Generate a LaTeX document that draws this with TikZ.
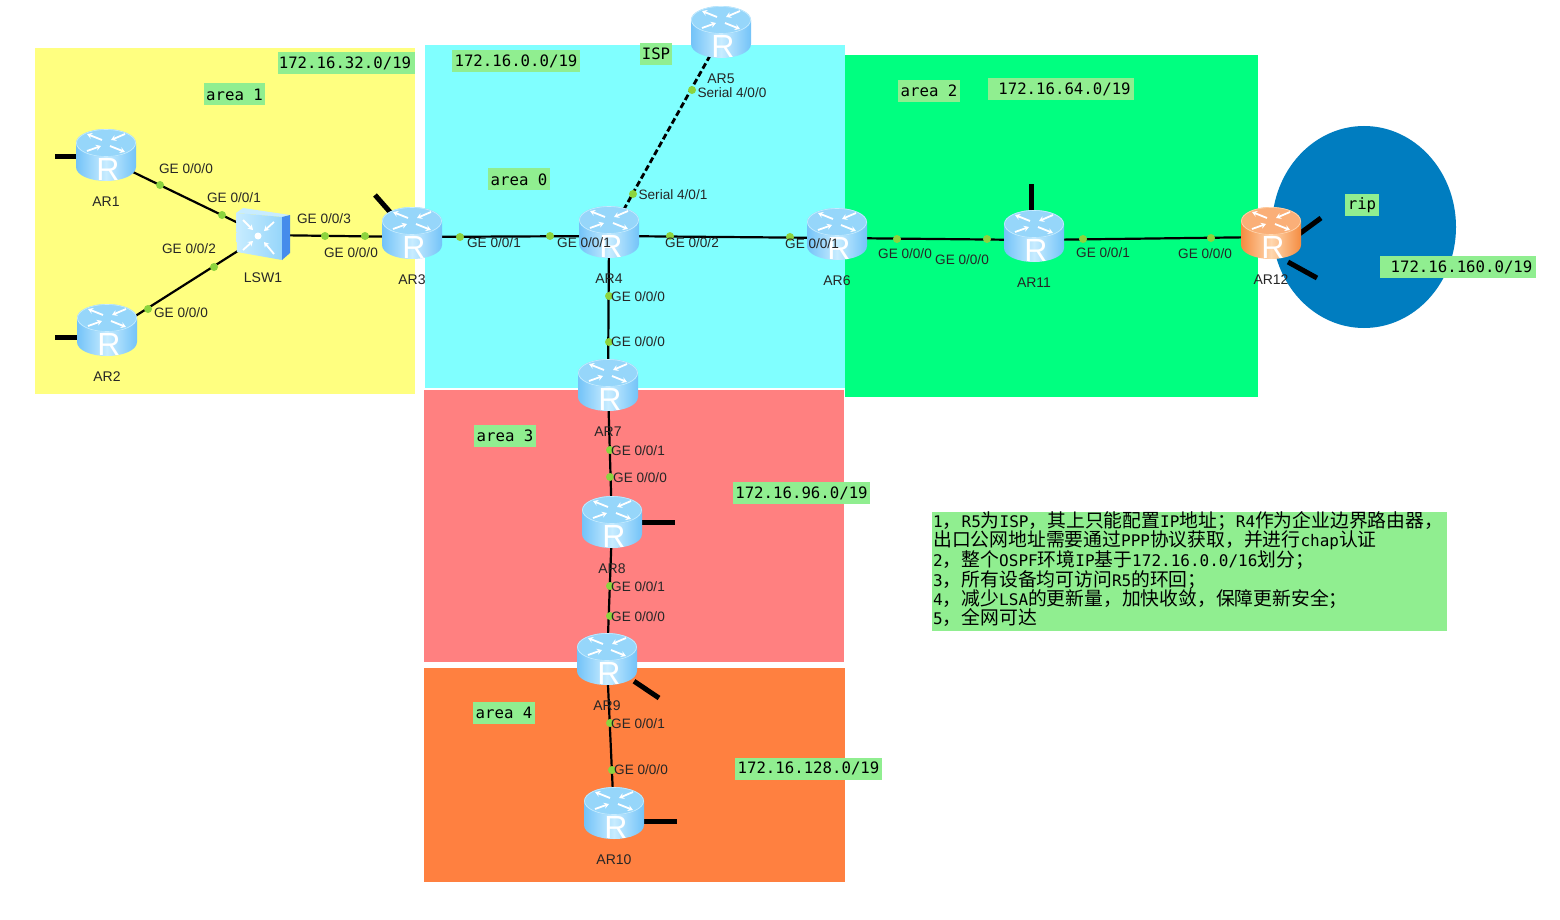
\documentclass[tikz,border=0pt]{standalone}
\usepackage{fontspec}
\setmainfont{Liberation Sans}
\setmonofont{DejaVu Sans Mono}
\newfontfamily\cjkfont{Noto Sans CJK SC}
\usetikzlibrary{arrows.meta,calc,positioning}
\definecolor{areayellow}{RGB}{255,255,128}
\definecolor{areacyan}{RGB}{128,255,255}
\definecolor{areagreen}{RGB}{0,255,128}
\definecolor{areared}{RGB}{255,128,128}
\definecolor{areaorange}{RGB}{255,128,64}
\definecolor{ripblue}{RGB}{0,125,192}
\definecolor{notegreen}{RGB}{144,238,144}
\definecolor{portgreen}{RGB}{140,212,62}
\definecolor{routerblue}{RGB}{115,195,248}
\definecolor{routerpale}{RGB}{200,236,255}
\definecolor{routertop}{RGB}{150,214,250}
\definecolor{routerorange}{RGB}{245,140,65}
\definecolor{routerpeach}{RGB}{255,215,175}
\definecolor{routertoporange}{RGB}{250,175,120}
\definecolor{switchside}{RGB}{70,140,235}
\newcommand{\zh}[1]{{\fontsize{18.8}{19.2}\cjkfont #1}}
\newcommand{\routericon}[4]{%
 \begin{scope}[shift={($(#1)+(0,-4)$)}]
  \shade[left color=#2,right color=#2,middle color=#3]
   (-30,-12) -- (-30,12) .. controls (-30,20) and (-16.5,26) .. (0,26)
   .. controls (16.5,26) and (30,20) .. (30,12) -- (30,-12) -- cycle;
  \fill[#4] (0,-12) ellipse [x radius=30pt,y radius=14pt];
  \draw[#3,line width=.6pt] (0,-12) ellipse [x radius=29.5pt,y radius=13.5pt];
  \draw[routerarrow] (-4,-15) -- (-19,-21);
  \draw[routerarrow] (19,-21) -- (5,-15);
  \draw[routerarrow] (-19,-4) -- (-5,-9);
  \draw[routerarrow] (4,-9) -- (19,-3);
  \node[routerletter] (#1letter) at (2,14) {R};
 \end{scope}}

\begin{document}
\begin{tikzpicture}[x=1pt,y=-1pt,line cap=butt,line join=round,
  routerbox/.style={minimum width=54pt,minimum height=36pt,inner sep=0pt},
  routerarrow/.style={white,line width=1.8pt,-{Stealth[length=5pt,width=6pt]}},
  routerletter/.style={white,inner sep=0pt,font=\fontsize{32}{32}\selectfont},
  routername/.style={inner sep=0pt,text=black!85,font=\fontsize{14}{14}\selectfont},
  portdot/.style={circle,fill=portgreen,minimum size=8pt,inner sep=0pt},
  portname/.style={inner sep=0pt,text=black!85,font=\fontsize{13.6}{14}\selectfont},
  netbox/.style={fill=notegreen,minimum height=22pt,inner sep=0pt,
   font=\ttfamily\fontsize{15.7}{16}\selectfont},
  linkline/.style={line width=2.2pt,black},
  stubline/.style={line width=5pt,black}]
 \useasboundingbox (0,0) rectangle (1560,920);
 \fill[white] (0,0) rectangle (1560,920);
 \fill[areayellow] (35,48) rectangle (415,394);
 \fill[areacyan] (425,45) rectangle (845,388);
 \fill[areagreen] (845,55) rectangle (1258,397);
 \fill[areared] (424,390) rectangle (844,662);
 \fill[areaorange] (424,668) rectangle (845,882);
 \fill[ripblue] (1364,227) ellipse [x radius=92pt,y radius=101pt];
 \fill[notegreen] (932,512) rectangle (1447,631);

 \node[routerbox] (ar1) at (106,159) {};
 \node[routerbox] (ar2) at (107,334) {};
 \node[routerbox] (ar3) at (412,237) {};
 \node[routerbox] (ar4) at (609,236) {};
 \node[routerbox] (ar5) at (721,36) {};
 \node[routerbox] (ar6) at (837,238) {};
 \node[routerbox] (ar7) at (608,389) {};
 \node[routerbox] (ar8) at (612,526) {};
 \node[routerbox] (ar9) at (607,663) {};
 \node[routerbox] (ar10) at (614,817) {};
 \node[routerbox] (ar11) at (1034,240) {};
 \node[routerbox] (ar12) at (1271,237) {};
 \node[minimum width=48pt,minimum height=44pt,inner sep=0pt] (lsw1) at (263,235) {};

 \draw[linkline] (ar1) -- (lsw1);
 \draw[linkline] (ar2) -- (lsw1);
 \draw[linkline] (lsw1) -- (ar3);
 \draw[linkline] (ar3) -- (ar4);
 \draw[linkline] (ar4) -- (ar6);
 \draw[linkline] (ar6) -- (ar11);
 \draw[linkline] (ar11) -- (ar12);
 \draw[linkline] (ar4) -- (ar7);
 \draw[linkline] (ar7) -- (ar8);
 \draw[linkline] (ar8) -- (ar9);
 \draw[linkline] (ar9) -- (ar10);
 \draw[line width=2.8pt,dash pattern=on 6pt off 3pt] (ar4) -- (ar5);

 \coordinate (ar1stub) at (55,157);
 \coordinate (ar2stub) at (55,337);
 \coordinate (ar3stub) at (375,195);
 \coordinate (ar8stub) at (675,522);
 \coordinate (ar9stub) at (659,698);
 \coordinate (ar10stub) at (677,821);
 \coordinate (ar11stub) at (1031,184);
 \coordinate (ar12stuba) at (1321,218);
 \coordinate (ar12stubb) at (1317,278);
 \draw[stubline] ($(ar1)+(0,-2)$) -- (ar1stub);
 \draw[stubline] ($(ar2)+(0,3)$) -- (ar2stub);
 \draw[stubline] (ar3) -- (ar3stub);
 \draw[stubline] ($(ar8)+(0,-4)$) -- (ar8stub);
 \draw[stubline] (ar9) -- (ar9stub);
 \draw[stubline] ($(ar10)+(0,4)$) -- (ar10stub);
 \draw[stubline] ($(ar11)+(-3,0)$) -- (ar11stub);
 \draw[stubline] ($(ar12)+(20,3)$) -- (ar12stuba);
 \draw[stubline] ($(ar12)+(17,25)$) -- (ar12stubb);

 \node[portdot] (p1) at (160,185) {};
 \node[portdot] (p2) at (222,215) {};
 \node[portdot] (p3) at (214,267) {};
 \node[portdot] (p4) at (148,309) {};
 \node[portdot] (p5) at (325,236) {};
 \node[portdot] (p6) at (365,236) {};
 \node[portdot] (p7) at (460,237) {};
 \node[portdot] (p8) at (550,236) {};
 \node[portdot] (p9) at (670,236) {};
 \node[portdot] (p10) at (790,237) {};
 \node[portdot] (p11) at (897,239) {};
 \node[portdot] (p12) at (987,239) {};
 \node[portdot] (p13) at (1083,239) {};
 \node[portdot] (p14) at (1211,238) {};
 \node[portdot] (p15) at (692,90) {};
 \node[portdot] (p16) at (633,194) {};
 \node[portdot] (p17) at (609,296) {};
 \node[portdot] (p18) at (609,342) {};
 \node[portdot] (p19) at (610,450) {};
 \node[portdot] (p20) at (610,477) {};
 \node[portdot] (p21) at (610,586) {};
 \node[portdot] (p22) at (610,616) {};
 \node[portdot] (p23) at (610,723) {};
 \node[portdot] (p24) at (612,770) {};

 \routericon{ar1}{routerblue}{routerpale}{routertop}
 \routericon{ar2}{routerblue}{routerpale}{routertop}
 \routericon{ar3}{routerblue}{routerpale}{routertop}
 \routericon{ar4}{routerblue}{routerpale}{routertop}
 \routericon{ar5}{routerblue}{routerpale}{routertop}
 \routericon{ar6}{routerblue}{routerpale}{routertop}
 \routericon{ar7}{routerblue}{routerpale}{routertop}
 \routericon{ar8}{routerblue}{routerpale}{routertop}
 \routericon{ar9}{routerblue}{routerpale}{routertop}
 \routericon{ar10}{routerblue}{routerpale}{routertop}
 \routericon{ar11}{routerblue}{routerpale}{routertop}
 \routericon{ar12}{routerorange}{routerpeach}{routertoporange}

 \fill[routerpale] (236,213) -- (243,208) -- (290,215) -- (282,217) -- cycle;
 \shade[left color=routerpale,right color=routertop]
  (236,213) -- (282,217) -- (282,260) -- (237,252) -- cycle;
 \fill[switchside] (282,217) -- (290,215) -- (290,253) -- (282,260) -- cycle;
 \fill[white] (258,236) circle [radius=3.5pt];
 \draw[routerarrow] (243,220) -- (253,230);
 \draw[routerarrow] (274,222) -- (264,231);
 \draw[routerarrow] (243,250) -- (253,241);
 \draw[routerarrow] (274,254) -- (264,242);

 \node[routername,below=19pt of ar1] (ar1name) {AR1};
 \node[routername,below=19pt of ar2] (ar2name) {AR2};
 \node[routername,below=19pt of ar3] (ar3name) {AR3};
 \node[routername,below=19pt of ar4] (ar4name) {AR4};
 \node[routername,below=19pt of ar5] (ar5name) {AR5};
 \node[routername,below=19pt of ar6] (ar6name) {AR6};
 \node[routername,below=19pt of ar7] (ar7name) {AR7};
 \node[routername,below=19pt of ar8] (ar8name) {AR8};
 \node[routername,below=19pt of ar9] (ar9name) {AR9};
 \node[routername,below=19pt of ar10] (ar10name) {AR10};
 \node[routername,below=19pt of ar11] (ar11name) {AR11};
 \node[routername,below=19pt of ar12] (ar12name) {AR12};
 \node[routername,below=15pt of lsw1] (lsw1name) {LSW1};

 \node[portname] (ge1) at (186,169) {GE 0/0/0};
 \node[portname] (ge2) at (234,198) {GE 0/0/1};
 \node[portname] (ge3) at (189,249) {GE 0/0/2};
 \node[portname] (ge4) at (181,313) {GE 0/0/0};
 \node[portname] (ge5) at (324,219) {GE 0/0/3};
 \node[portname] (ge6) at (351,253) {GE 0/0/0};
 \node[portname] (ge7) at (494,243) {GE 0/0/1};
 \node[portname] (ge8) at (584,243) {GE 0/0/1};
 \node[portname] (ge9) at (692,243) {GE 0/0/2};
 \node[portname] (ge10) at (812,244) {GE 0/0/1};
 \node[portname] (ge11) at (905,254) {GE 0/0/0};
 \node[portname] (ge12) at (962,260) {GE 0/0/0};
 \node[portname] (ge13) at (1103,253) {GE 0/0/1};
 \node[portname] (ge14) at (1205,254) {GE 0/0/0};
 \node[portname] (ge15) at (638,297) {GE 0/0/0};
 \node[portname] (ge16) at (638,342) {GE 0/0/0};
 \node[portname] (ge17) at (638,451) {GE 0/0/1};
 \node[portname] (ge18) at (640,478) {GE 0/0/0};
 \node[portname] (ge19) at (638,587) {GE 0/0/1};
 \node[portname] (ge20) at (638,617) {GE 0/0/0};
 \node[portname] (ge21) at (638,724) {GE 0/0/1};
 \node[portname] (ge22) at (641,770) {GE 0/0/0};
 \node[portname] (se1) at (732,93) {Serial 4/0/0};
 \node[portname] (se2) at (673,195) {Serial 4/0/1};

 \node[netbox,minimum width=61pt] (area1) at (234.5,94.5) {area 1};
 \node[netbox,minimum width=62pt] (area0) at (519,179.5) {area 0};
 \node[netbox,minimum width=62pt] (area2) at (929,91) {area 2};
 \node[netbox,minimum width=62pt] (area3) at (505,436) {area 3};
 \node[netbox,minimum width=62pt] (area4) at (504,713) {area 4};
 \node[netbox,minimum width=137pt] (net32) at (346.5,63) {\hspace{-3pt}172.16.32.0/19};
 \node[netbox,minimum width=128pt] (net0) at (516,61) {172.16.0.0/19};
 \node[netbox,minimum width=146pt] (net64) at (1061,89.5) {\hspace{7pt}172.16.64.0/19};
 \node[netbox,minimum width=137pt] (net96) at (801.5,493) {172.16.96.0/19};
 \node[netbox,minimum width=147pt] (net128) at (808.5,768.5) {172.16.128.0/19};
 \node[netbox,minimum width=156pt] (net160) at (1458,267) {\hspace{7pt}172.16.160.0/19};
 \node[netbox,minimum width=32pt] (isp) at (656,54) {ISP};
 \node[netbox,minimum width=34pt] (rip) at (1362,205) {rip};

 \node[anchor=west,align=left,inner sep=0pt,text width=513pt,
  font=\ttfamily\fontsize{16}{19.2}\selectfont] (note) at (933,569) {%
  1\zh{，}R5\zh{为}ISP\zh{，其上只能配置}IP\zh{地址；}R4\zh{作为企业边界路由器，}\\
  \zh{出口公网地址需要通过}PPP\zh{协议获取，并进行}chap\zh{认证}\\
  2\zh{，整个}OSPF\zh{环境}IP\zh{基于}172.16.0.0/16\zh{划分；}\\
  3\zh{，所有设备均可访问}R5\zh{的环回；}\\
  4\zh{，减少}LSA\zh{的更新量，加快收敛，保障更新安全；}\\
  5\zh{，全网可达}};
\end{tikzpicture}
\end{document}
